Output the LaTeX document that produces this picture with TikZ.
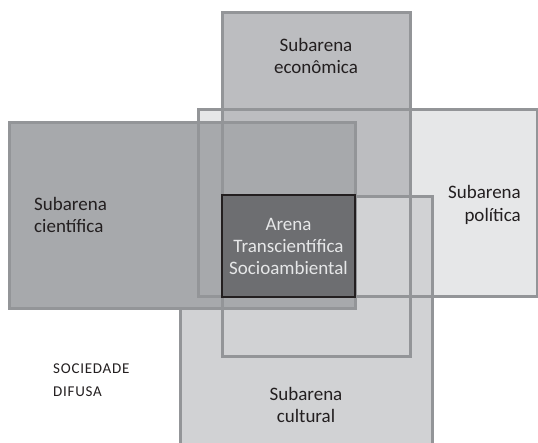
\documentclass[tikz,border=0pt]{standalone}
\usepackage{fontspec}
\setmainfont{Carlito}
\newfontfamily\socfont[LetterSpace=5]{Carlito}
\definecolor{polfill}{HTML}{E6E7E8}
\definecolor{ecofill}{HTML}{BCBDC0}
\definecolor{culfill}{HTML}{D1D2D4}
\definecolor{ciefill}{HTML}{A7A9AC}
\definecolor{arenafill}{HTML}{6D6E71}
\definecolor{edgegray}{HTML}{939598}
\definecolor{txtdark}{HTML}{231F20}
\begin{document}
\begin{tikzpicture}[x=1pt,y=-1pt,
  area/.style={fill=#1,draw=none,inner sep=0pt,outer sep=0pt},
  edge/.style={draw=edgegray,line width=3pt},
  lbl/.style={text=txtdark,inner sep=0pt,font=\fontsize{19}{22.5}\selectfont},
  arenabox/.style={fill=arenafill,draw=txtdark,line width=2.5pt,inner sep=0pt,
    minimum width=133pt,minimum height=102pt,
    text=polfill,align=center,font=\fontsize{19}{22}\selectfont}]
\useasboundingbox (0,0) rectangle (538,443);
% fills (cultural's frame lies under the scientific area)
\node[area=polfill,minimum width=339pt,minimum height=187pt] (pol) at (367.5,203.5) {};
\node[area=ecofill,minimum width=188pt,minimum height=344pt] (eco) at (316,185) {};
\node[area=culfill,minimum width=252pt,minimum height=263pt] (cul) at (306,328.5) {};
\draw[edge] (cul.north west) rectangle (cul.south east);
\node[area=ciefill,minimum width=346pt,minimum height=186pt] (cie) at (182,216) {};
% borders on top
\draw[edge] (pol.north west) rectangle (pol.south east);
\draw[edge] (eco.north west) rectangle (eco.south east);
\draw[edge] (cie.north west) rectangle (cie.south east);
% centre
\node[arenabox] (arena) at (288.5,246) {Arena\\Transcientífica\\Socioambiental};
% labels
\node[lbl,align=center] (ecolbl) at (316,56) {Subarena\\econômica};
\node[lbl,align=left,anchor=west] (cielbl) at (34,215) {Subarena\\científica};
\node[lbl,align=right,anchor=east] (pollbl) at (521,205) {Subarena\\política};
\node[lbl,align=center] (cullbl) at (306,405) {Subarena\\cultural};
\node[text=txtdark,inner sep=0pt,align=left,anchor=west,font=\socfont\fontsize{15}{23}\selectfont] (soc) at (53,380) {SOCIEDADE\\DIFUSA};
\end{tikzpicture}
\end{document}
